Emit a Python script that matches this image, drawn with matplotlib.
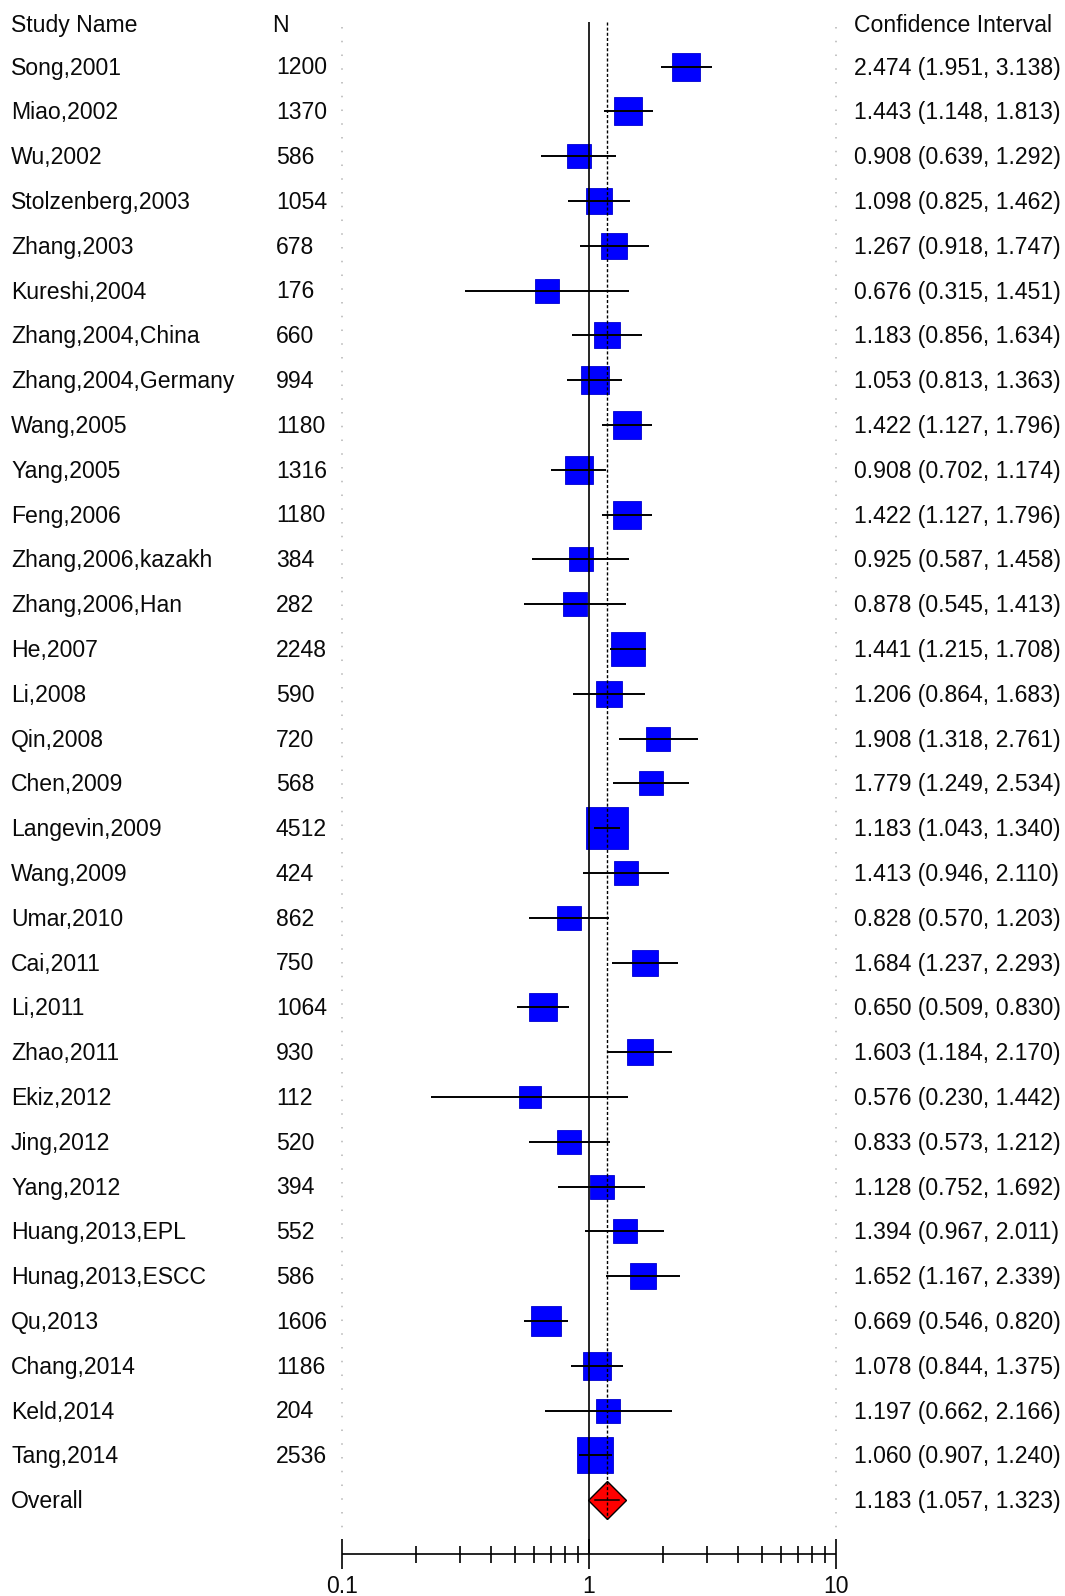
import numpy as np
import matplotlib
matplotlib.use("Agg")
import matplotlib.pyplot as plt
from matplotlib.transforms import blended_transform_factory

plt.rcParams["font.family"] = ["Liberation Sans", "DejaVu Sans"]

# Study-level data: name, sample size, odds ratio and 95% CI
studies = ["Song,2001", "Miao,2002", "Wu,2002", "Stolzenberg,2003", "Zhang,2003",
           "Kureshi,2004", "Zhang,2004,China", "Zhang,2004,Germany", "Wang,2005",
           "Yang,2005", "Feng,2006", "Zhang,2006,kazakh", "Zhang,2006,Han", "He,2007",
           "Li,2008", "Qin,2008", "Chen,2009", "Langevin,2009", "Wang,2009", "Umar,2010",
           "Cai,2011", "Li,2011", "Zhao,2011", "Ekiz,2012", "Jing,2012", "Yang,2012",
           "Huang,2013,EPL", "Hunag,2013,ESCC", "Qu,2013", "Chang,2014", "Keld,2014",
           "Tang,2014"]
sample_n = [1200, 1370, 586, 1054, 678, 176, 660, 994, 1180, 1316, 1180, 384, 282, 2248,
            590, 720, 568, 4512, 424, 862, 750, 1064, 930, 112, 520, 394, 552, 586, 1606,
            1186, 204, 2536]
odds_ratio = [2.474, 1.443, 0.908, 1.098, 1.267, 0.676, 1.183, 1.053, 1.422, 0.908, 1.422,
              0.925, 0.878, 1.441, 1.206, 1.908, 1.779, 1.183, 1.413, 0.828, 1.684, 0.650,
              1.603, 0.576, 0.833, 1.128, 1.394, 1.652, 0.669, 1.078, 1.197, 1.060]
ci_low = [1.951, 1.148, 0.639, 0.825, 0.918, 0.315, 0.856, 0.813, 1.127, 0.702, 1.127,
          0.587, 0.545, 1.215, 0.864, 1.318, 1.249, 1.043, 0.946, 0.570, 1.237, 0.509,
          1.184, 0.230, 0.573, 0.752, 0.967, 1.167, 0.546, 0.844, 0.662, 0.907]
ci_high = [3.138, 1.813, 1.292, 1.462, 1.747, 1.451, 1.634, 1.363, 1.796, 1.174, 1.796,
           1.458, 1.413, 1.708, 1.683, 2.761, 2.534, 1.340, 2.110, 1.203, 2.293, 0.830,
           2.170, 1.442, 1.212, 1.692, 2.011, 2.339, 0.820, 1.375, 2.166, 1.240]

overall_label = "Overall"
overall_or, overall_low, overall_high = 1.183, 1.057, 1.323

axis_ticks_major = [0.1, 1, 10]
axis_tick_labels = ["0.1", "1", "10"]

# Figure geometry (pixels at 100 dpi)
W, H = 1065, 1596
fig = plt.figure(figsize=(W / 100, H / 100), dpi=100)
ax = fig.add_axes([0, 0, 1, 1])
ax.set_xscale("log")
x01_px, decade_px = 342.0, 247.0
ax.set_xlim(10 ** (-1 - x01_px / decade_px), 10 ** (1 + (W - x01_px - 2 * decade_px) / decade_px))
row0_px, row_px = 66.5, 44.8
ax.set_ylim((H - row0_px) / row_px, -row0_px / row_px)
ax.axis("off")

n = len(studies)
rows = np.arange(n)
overall_row = n

# inverse-variance weights set the square size
se = (np.log(ci_high) - np.log(ci_low)) / (2 * 1.96)
weights = 1.0 / se ** 2
side_px = 22.5 + 0.08 * weights
px2pt = 72.0 / 100

for r, est, lo, hi, s in zip(rows, odds_ratio, ci_low, ci_high, side_px):
    ax.plot([est], [r], marker="s", markersize=s * px2pt, color="#0000ff",
            markeredgecolor="#0000d0", markeredgewidth=0.6, zorder=2)
    ax.plot([lo, hi], [r, r], color="black", lw=1.4, zorder=3, solid_capstyle="butt")

# Overall effect
ax.plot([overall_or], [overall_row], marker="D", markersize=27.5 * px2pt,
        color="#ff0000", markeredgecolor="black", markeredgewidth=1.0, zorder=2)
ax.plot([overall_low, overall_high], [overall_row, overall_row], color="black",
        lw=1.1, zorder=3)

# Reference lines
top_row = (22 - row0_px) / row_px
axis_row = (1554 - row0_px) / row_px
ax.vlines(1, top_row, axis_row, color="black", lw=1.2, zorder=4)
ax.vlines(overall_or, top_row, overall_row + 0.43, color="black", lw=1.0,
          linestyles=(0, (2.2, 1.5)), zorder=4)
for xv in (axis_ticks_major[0], axis_ticks_major[-1]):
    ax.vlines(xv, (27 - row0_px) / row_px, (1540 - row0_px) / row_px, color="#b4b4b4",
              lw=1.1, linestyles=(0, (1, 8)), zorder=1)

# Bottom log axis
ax.hlines(axis_row, axis_ticks_major[0], axis_ticks_major[-1], color="black", lw=1.2)
major_half = 15 / row_px
minor_half = 8.5 / row_px
ax.vlines(axis_ticks_major, axis_row - major_half, axis_row + major_half, color="black", lw=1.2)
minor = [m * d for d in (0.1, 1) for m in range(2, 10)]
ax.vlines(minor, axis_row - minor_half, axis_row + minor_half, color="black", lw=1.2)

fs = 16.6
label_row = (1593 - row0_px) / row_px
for xv, lab in zip(axis_ticks_major, axis_tick_labels):
    ax.text(xv, label_row, lab, ha="center", va="baseline", fontsize=fs, color="#0a0a0a")

# Text columns
tr = blended_transform_factory(fig.transFigure, ax.transData)
base = 8.0 / row_px
col_name, col_n, col_n_hdr, col_ci = 11 / W, 276 / W, 272 / W, 854 / W
header_row = (23.8 - row0_px) / row_px
txt = dict(transform=tr, fontsize=fs, color="#0a0a0a")
ax.text(col_name, header_row + base, "Study Name", **txt)
ax.text(col_n_hdr, header_row + base, "N", **txt)
ax.text(col_ci, header_row + base, "Confidence Interval", **txt)
for r, name, nn, est, lo, hi in zip(rows, studies, sample_n, odds_ratio, ci_low, ci_high):
    ax.text(col_name, r + base, name, **txt)
    ax.text(col_n, r + base, str(nn), **txt)
    ax.text(col_ci, r + base, f"{est:.3f} ({lo:.3f}, {hi:.3f})", **txt)
ax.text(col_name, overall_row + base, overall_label, **txt)
ax.text(col_ci, overall_row + base,
        f"{overall_or:.3f} ({overall_low:.3f}, {overall_high:.3f})", **txt)

fig.savefig("out.png", dpi=100, facecolor="white")
